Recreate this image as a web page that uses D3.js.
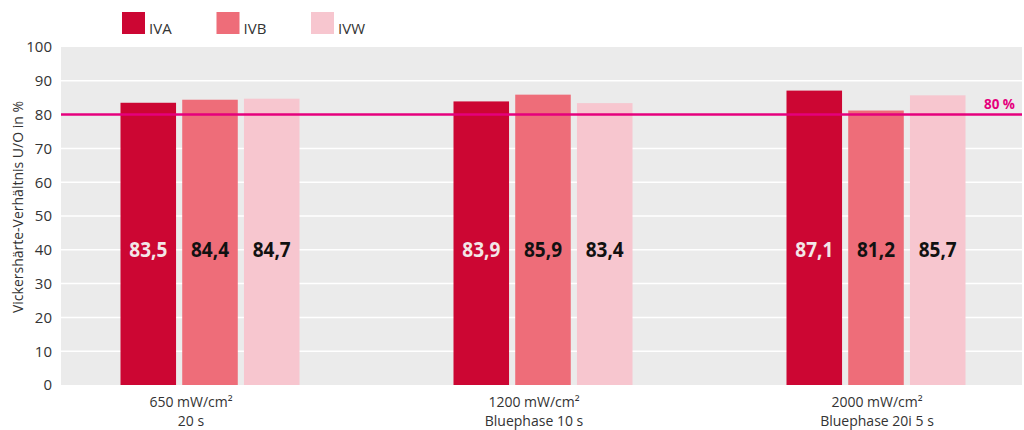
<!DOCTYPE html>
<html>
<head>
<meta charset="utf-8">
<script src="https://cdn.jsdelivr.net/npm/d3@7"></script>
<style>
  html, body { margin: 0; padding: 0; background: #fff; }
  svg { display: block; font-family: "Open Sans", "Noto Sans", sans-serif; }
</style>
</head>
<body>
<svg id="chart" width="1024" height="430"></svg>
<script>
// Light-curing groups (two-line labels) and series
const groupLine1 = ["650 mW/cm²", "1200 mW/cm²", "2000 mW/cm²"];
const groupLine2 = ["20 s", "Bluephase 10 s", "Bluephase 20i 5 s"];
const seriesNames = ["IVA", "IVB", "IVW"];
const seriesColors = ["#cc0633", "#ee6d79", "#f7c6cf"];
const valueTextColors = ["#f3e6e8", "#111111", "#111111"];

// Hardness ratio bottom/top in % per series, one value per group
const valuesIVA = [83.5, 83.9, 87.1];
const valuesIVB = [84.4, 85.9, 81.2];
const valuesIVW = [84.7, 83.4, 85.7];
const seriesValues = [valuesIVA, valuesIVB, valuesIVW];

const yTicks = [0, 10, 20, 30, 40, 50, 60, 70, 80, 90, 100];
const threshold = 80;
const thresholdLabel = "80 %";
const yTitle = "Vickershärte-Verhältnis U/O in %";

const svg = d3.select("#chart");
const plot = { left: 61, right: 1022, top: 47, bottom: 385 };

const y = d3.scaleLinear().domain([0, 100]).range([plot.bottom, plot.top]);
const xGroup = d3.scalePoint().domain(d3.range(groupLine1.length)).range([210, 876]);
const xLabel = d3.scalePoint().domain(d3.range(groupLine1.length)).range([191, 877]);
const xInner = d3.scaleBand().domain(d3.range(seriesNames.length)).range([-89.5, 89.5]).paddingInner(0.1);

// Plot background
svg.append("rect")
  .attr("x", plot.left).attr("y", plot.top)
  .attr("width", plot.right - plot.left).attr("height", plot.bottom - plot.top)
  .attr("fill", "#ebebeb");

// Horizontal gridlines
svg.append("g").selectAll("line")
  .data(yTicks.filter(t => t > 0 && t < 100))
  .join("line")
  .attr("x1", plot.left).attr("x2", plot.right)
  .attr("y1", d => y(d)).attr("y2", d => y(d))
  .attr("stroke", "#ffffff").attr("stroke-width", 1.5);

// Y axis tick labels
const yAxis = d3.axisLeft(y).tickValues(yTicks).tickSize(0).tickPadding(9);
const yg = svg.append("g").attr("transform", `translate(${plot.left},0)`).call(yAxis);
yg.select(".domain").remove();
yg.selectAll("text")
  .attr("font-family", "'Open Sans', sans-serif")
  .attr("font-size", 15).attr("fill", "#333");

// Y axis title
svg.append("text")
  .attr("transform", `translate(23,207) rotate(-90)`)
  .attr("text-anchor", "middle")
  .attr("font-size", 14).attr("fill", "#333")
  .text(yTitle);

// Bars
const bars = [];
seriesValues.forEach((vals, s) => vals.forEach((v, g) => bars.push({ g, s, v })));

svg.append("g").selectAll("rect")
  .data(bars)
  .join("rect")
  .attr("x", d => xGroup(d.g) + xInner(d.s))
  .attr("width", xInner.bandwidth())
  .attr("y", d => y(d.v))
  .attr("height", d => y(0) - y(d.v))
  .attr("fill", d => seriesColors[d.s]);

// Value labels inside bars (condensed bold figures)
svg.append("g").selectAll("text")
  .data(bars)
  .join("text")
  .attr("x", d => xGroup(d.g) + xInner(d.s) + xInner.bandwidth() / 2)
  .attr("y", y(40))
  .attr("dy", "0.36em")
  .attr("text-anchor", "middle")
  .attr("font-size", 21).attr("font-weight", 700)
  .attr("textLength", 38).attr("lengthAdjust", "spacingAndGlyphs")
  .attr("fill", d => valueTextColors[d.s])
  .text(d => d3.format(".1f")(d.v).replace(".", ","));

// 80 % reference line
svg.append("line")
  .attr("x1", plot.left).attr("x2", plot.right)
  .attr("y1", y(threshold)).attr("y2", y(threshold))
  .attr("stroke", "#e5007d").attr("stroke-width", 2.5);
svg.append("text")
  .attr("x", 1015).attr("y", y(threshold) - 6)
  .attr("text-anchor", "end")
  .attr("font-size", 15).attr("font-weight", 700)
  .attr("textLength", 31).attr("lengthAdjust", "spacingAndGlyphs")
  .attr("fill", "#e5007d")
  .text(thresholdLabel);

// Category labels below the plot
const xl = svg.append("g").selectAll("text")
  .data(d3.range(groupLine1.length))
  .join("text")
  .attr("text-anchor", "middle")
  .attr("font-size", 14).attr("fill", "#333");
xl.append("tspan").attr("x", d => xLabel(d)).attr("y", 407).text(d => groupLine1[d]);
xl.append("tspan").attr("x", d => xLabel(d)).attr("y", 426).text(d => groupLine2[d]);

// Legend
const legendX = d3.scalePoint().domain(d3.range(seriesNames.length)).range([122, 311]);
const lg = svg.append("g").selectAll("g")
  .data(d3.range(seriesNames.length))
  .join("g")
  .attr("transform", d => `translate(${legendX(d)},12)`);
lg.append("rect").attr("width", 23).attr("height", 22).attr("fill", d => seriesColors[d]);
lg.append("text").attr("x", 27).attr("y", 22).attr("font-size", 15).attr("fill", "#333")
  .text(d => seriesNames[d]);
</script>
</body>
</html>
